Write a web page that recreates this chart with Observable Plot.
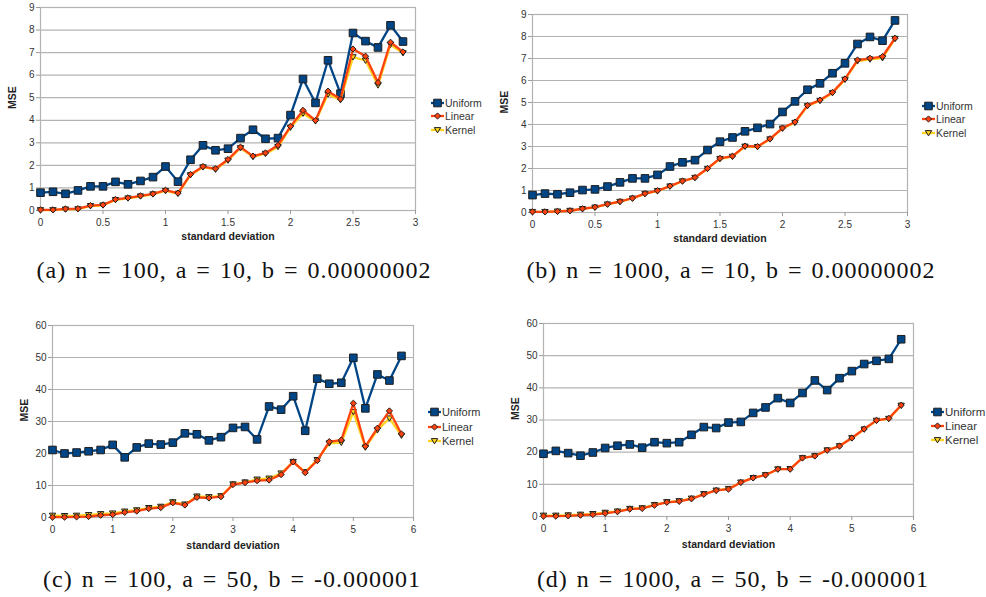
<!DOCTYPE html>
<html><head><meta charset="utf-8">
<script src="https://cdn.jsdelivr.net/npm/d3@7"></script>
<script src="https://cdn.jsdelivr.net/npm/@observablehq/plot@0.6"></script>
<style>
body{margin:0;background:#fff;}
#root{position:relative;width:986px;height:597px;overflow:hidden;background:#fff;font-family:"Liberation Sans",Arial,sans-serif;}
.panel{position:absolute;}
.legend{position:absolute;color:#333;font-family:"Liberation Sans",Arial,sans-serif;}
.legend .row{display:flex;align-items:center;white-space:nowrap;}
.legend svg{margin-right:1px;}
.caption{position:absolute;width:520px;text-align:center;font-family:"Liberation Serif","Times New Roman",serif;font-size:24px;line-height:24px;letter-spacing:1px;word-spacing:2px;color:#111;white-space:nowrap;}
</style>
</head><body><div id="root"></div>
<script>
// ---------- data ----------
const seriesNames = ["Uniform", "Linear", "Kernel"];
const seriesColors = ["#004586", "#ff420e", "#ffd320"];

const sdSmall = [0,0.1,0.2,0.3,0.4,0.5,0.6,0.7,0.8,0.9,1.0,1.1,1.2,1.3,1.4,1.5,1.6,1.7,1.8,1.9,2.0,2.1,2.2,2.3,2.4,2.5,2.6,2.7,2.8,2.9];
const sdLarge = [0,0.2,0.4,0.6,0.8,1.0,1.2,1.4,1.6,1.8,2.0,2.2,2.4,2.6,2.8,3.0,3.2,3.4,3.6,3.8,4.0,4.2,4.4,4.6,4.8,5.0,5.2,5.4,5.6,5.8];

// (a) n = 100, a = 10
const uniformA = [0.79,0.83,0.74,0.89,1.07,1.07,1.27,1.16,1.31,1.48,1.95,1.28,2.25,2.89,2.67,2.74,3.21,3.58,3.18,3.21,4.23,5.83,4.77,6.66,5.18,7.87,7.51,7.23,8.21,7.49];
const linearA  = [0.03,0.03,0.07,0.08,0.22,0.25,0.49,0.56,0.65,0.74,0.90,0.77,1.60,1.95,1.85,2.26,2.81,2.41,2.55,2.89,3.73,4.44,3.99,5.29,4.94,7.16,6.84,5.67,7.46,7.03];
const kernelA  = [0.02,0.02,0.05,0.06,0.20,0.23,0.47,0.54,0.63,0.72,0.87,0.75,1.57,1.92,1.82,2.22,2.77,2.38,2.52,2.82,3.68,4.30,3.96,5.15,4.90,6.80,6.65,5.55,7.35,6.98];

// (b) n = 1000, a = 10
const uniformB = [0.79,0.86,0.83,0.90,1.02,1.05,1.18,1.37,1.55,1.55,1.71,2.09,2.28,2.38,2.84,3.22,3.41,3.69,3.85,4.02,4.57,5.05,5.58,5.87,6.33,6.78,7.66,7.98,7.81,8.73];
const linearB  = [0.03,0.03,0.05,0.08,0.17,0.24,0.38,0.50,0.65,0.86,0.99,1.20,1.43,1.59,2.00,2.46,2.56,3.02,3.00,3.35,3.84,4.11,4.87,5.11,5.46,6.07,6.93,7.01,7.09,7.92];
const kernelB  = [0.03,0.03,0.05,0.08,0.16,0.23,0.37,0.49,0.64,0.85,0.98,1.19,1.42,1.58,1.99,2.44,2.54,3.00,2.98,3.33,3.82,4.08,4.84,5.08,5.43,6.04,6.88,6.96,7.02,7.90];

// (c) n = 100, a = 50
const uniformC = [21.1,20.0,20.3,20.7,21.1,22.7,18.8,21.9,23.1,22.8,23.4,26.3,26.0,24.1,25.1,28.0,28.3,24.4,34.7,33.7,37.9,27.1,43.4,41.8,42.1,49.9,34.1,44.7,42.8,50.5];
const linearC  = [0.1,0.1,0.2,0.3,0.7,0.9,1.6,2.0,2.8,3.1,4.6,3.9,6.3,6.1,6.5,10.3,10.9,11.5,11.7,13.4,17.4,14.0,17.8,23.7,24.2,35.7,22.2,27.9,33.3,26.1];
const kernelC  = [0.6,0.5,0.6,0.8,1.1,1.3,1.9,2.3,3.0,3.4,4.8,4.1,6.6,6.4,6.7,10.4,11.0,11.9,12.2,13.8,17.4,14.2,18.0,23.2,23.4,33.0,21.9,27.3,31.0,25.6];

// (d) n = 1000, a = 50
const uniformD = [19.5,20.4,19.7,18.9,19.9,21.3,22.0,22.4,21.4,23.1,22.8,23.1,25.4,27.8,27.5,29.2,29.4,32.2,33.9,36.8,35.3,38.4,42.3,39.3,43.0,45.2,47.4,48.4,49.0,55.1];
const linearD  = [0.1,0.1,0.2,0.4,0.6,1.0,1.5,2.3,2.5,3.5,4.4,4.7,5.5,6.9,8.1,8.5,10.6,12.0,12.9,14.7,14.7,18.2,18.8,20.6,21.9,24.4,27.2,29.9,30.5,34.6];
const kernelD  = [0.3,0.3,0.4,0.6,0.8,1.2,1.6,2.4,2.6,3.6,4.5,4.8,5.6,7.0,8.1,8.6,10.6,12.0,12.9,14.7,14.8,18.2,18.8,20.6,21.9,24.4,27.1,29.8,30.4,34.5];

const xTicksSmall = [0,0.5,1,1.5,2,2.5,3];
const xTicksLarge = [0,1,2,3,4,5,6];
const yTicksSmall = [0,1,2,3,4,5,6,7,8,9];
const yTicksLarge = [0,10,20,30,40,50,60];

const captions = [
  "(a) n = 100, a = 10, b = 0.00000002",
  "(b) n = 1000, a = 10, b = 0.00000002",
  "(c) n = 100, a = 50, b = -0.000001",
  "(d) n = 1000, a = 50, b = -0.000001"
];
const xLabel = "standard deviation";
const yLabel = "MSE";

// ---------- symbols ----------
const symSquare = {draw(ctx, size){ const r = Math.sqrt(size/Math.PI); ctx.moveTo(-r,-r); ctx.lineTo(r,-r); ctx.lineTo(r,r); ctx.lineTo(-r,r); ctx.closePath(); }};
const symDiamond = {draw(ctx, size){ const r = Math.sqrt(size/Math.PI); ctx.moveTo(0,-r); ctx.lineTo(r,0); ctx.lineTo(0,r); ctx.lineTo(-r,0); ctx.closePath(); }};
const symTriDown = {draw(ctx, size){ const r = Math.sqrt(size/Math.PI); ctx.moveTo(-r,-r*0.75); ctx.lineTo(r,-r*0.75); ctx.lineTo(0,r*0.9); ctx.closePath(); }};
const symbols = [symSquare, symDiamond, symTriDown];
const symR = [3.8, 3.1, 3.2];

const root = document.getElementById("root");

function panel(cfg) {
  const {sd, series, xDomain, xTicks, yDomain, yTicks, left, top, width, height, mt, mr, mb, ml} = cfg;
  const rows = [];
  series.forEach((vals, si) => vals.forEach((v, i) => rows.push({s: seriesNames[si], si, x: sd[i], y: v})));
  const bySeries = si => rows.filter(d => d.si === si);
  const order = [0, 2, 1];
  const marks = [
    Plot.gridY(yTicks, {stroke: "#b3b3b3", strokeOpacity: 1, strokeWidth: 1.2}),
    Plot.frame({stroke: "#b3b3b3", strokeWidth: 1.2}),
    Plot.axisX(xTicks, {tickSize: 4, tickPadding: 4, stroke: "#9a9a9a", fill: "#333", fontSize: 10, tickFormat: d => String(d), label: null}),
    Plot.axisY(yTicks, {tickSize: 4, tickPadding: 2, stroke: "#9a9a9a", fill: "#333", fontSize: 10, tickFormat: d => String(d), label: null}),
    Plot.text([yLabel], {frameAnchor: "left", text: d => d, rotate: -90, dx: -28, fontWeight: "bold", fontSize: 10.5, fill: "#222"}),
    Plot.text([xLabel], {frameAnchor: "bottom", text: d => d, dy: cfg.xlabDy, fontWeight: "bold", fontSize: 10.5, fill: "#222"})
  ];
  for (const si of order) {
    marks.push(Plot.line(bySeries(si), {x: "x", y: "y", stroke: seriesColors[si], strokeWidth: 2.3}));
    marks.push(Plot.dot(bySeries(si), {x: "x", y: "y", symbol: symbols[si], r: symR[si], fill: seriesColors[si], stroke: "#1e1e1e", strokeWidth: 1}));
  }
  const chart = Plot.plot({
    width, height, marginTop: mt, marginRight: mr, marginBottom: mb, marginLeft: ml,
    x: {domain: xDomain, axis: null},
    y: {domain: yDomain, axis: null},
    style: {fontFamily: "'Liberation Sans', Arial, sans-serif", background: "transparent", overflow: "visible"},
    marks
  });
  const div = document.createElement("div");
  div.className = "panel";
  div.style.left = left + "px"; div.style.top = top + "px";
  div.appendChild(chart);
  root.appendChild(div);

  // legend
  const lg = document.createElement("div");
  lg.className = "legend";
  lg.style.left = cfg.legLeft + "px"; lg.style.top = cfg.legTop + "px";
  lg.style.fontSize = cfg.legFont + "px";
  seriesNames.forEach((name, si) => {
    const row = document.createElement("div");
    row.className = "row";
    row.style.height = cfg.legRow + "px";
    const ns = "http://www.w3.org/2000/svg";
    const s = document.createElementNS(ns, "svg");
    s.setAttribute("width", 13); s.setAttribute("height", 10);
    const ln = document.createElementNS(ns, "line");
    ln.setAttribute("x1", 0); ln.setAttribute("x2", 13); ln.setAttribute("y1", 5); ln.setAttribute("y2", 5);
    ln.setAttribute("stroke", seriesColors[si]); ln.setAttribute("stroke-width", 2.3);
    s.appendChild(ln);
    const p = document.createElementNS(ns, "path");
    p.setAttribute("d", d3.symbol(symbols[si], Math.PI * symR[si] * symR[si])());
    p.setAttribute("transform", "translate(6.5,5)");
    p.setAttribute("fill", seriesColors[si]); p.setAttribute("stroke", "#1e1e1e"); p.setAttribute("stroke-width", 1);
    s.appendChild(p);
    row.appendChild(s);
    const t = document.createElement("span");
    t.textContent = name;
    row.appendChild(t);
    lg.appendChild(row);
  });
  root.appendChild(lg);

  const cap = document.createElement("div");
  cap.className = "caption";
  cap.textContent = cfg.caption;
  cap.style.left = (cfg.capX - 260) + "px";
  cap.style.top = (cfg.capY - 13) + "px";
  root.appendChild(cap);
}

panel({sd: sdSmall, series: [uniformA, linearA, kernelA], xDomain: [0,3], xTicks: xTicksSmall, yDomain: [0,9], yTicks: yTicksSmall,
  left: 0, top: 0, width: 430, height: 250, mt: 7, mr: 15, mb: 40, ml: 40, xlabDy: 29,
  legLeft: 431, legTop: 96, legRow: 13.5, legFont: 10.5, caption: captions[0], capX: 234, capY: 271});
panel({sd: sdSmall, series: [uniformB, linearB, kernelB], xDomain: [0,3], xTicks: xTicksSmall, yDomain: [0,9], yTicks: yTicksSmall,
  left: 490, top: 0, width: 430, height: 250, mt: 14, mr: 13, mb: 38, ml: 42, xlabDy: 29,
  legLeft: 922, legTop: 99, legRow: 13.5, legFont: 10.5, caption: captions[1], capX: 731, capY: 271});
panel({sd: sdLarge, series: [uniformC, linearC, kernelC], xDomain: [0,6], xTicks: xTicksLarge, yDomain: [0,60], yTicks: yTicksLarge,
  left: 0, top: 310, width: 430, height: 250, mt: 15, mr: 17, mb: 43, ml: 52, xlabDy: 31,
  legLeft: 428, legTop: 405, legRow: 14.5, legFont: 11, caption: captions[2], capX: 232, capY: 580});
panel({sd: sdLarge, series: [uniformD, linearD, kernelD], xDomain: [0,6], xTicks: xTicksLarge, yDomain: [0,60], yTicks: yTicksLarge,
  left: 490, top: 310, width: 435, height: 250, mt: 13, mr: 12, mb: 44, ml: 53, xlabDy: 31,
  legLeft: 931, legTop: 405, legRow: 14, legFont: 11.5, caption: captions[3], capX: 733, capY: 580});
</script>
</body></html>
